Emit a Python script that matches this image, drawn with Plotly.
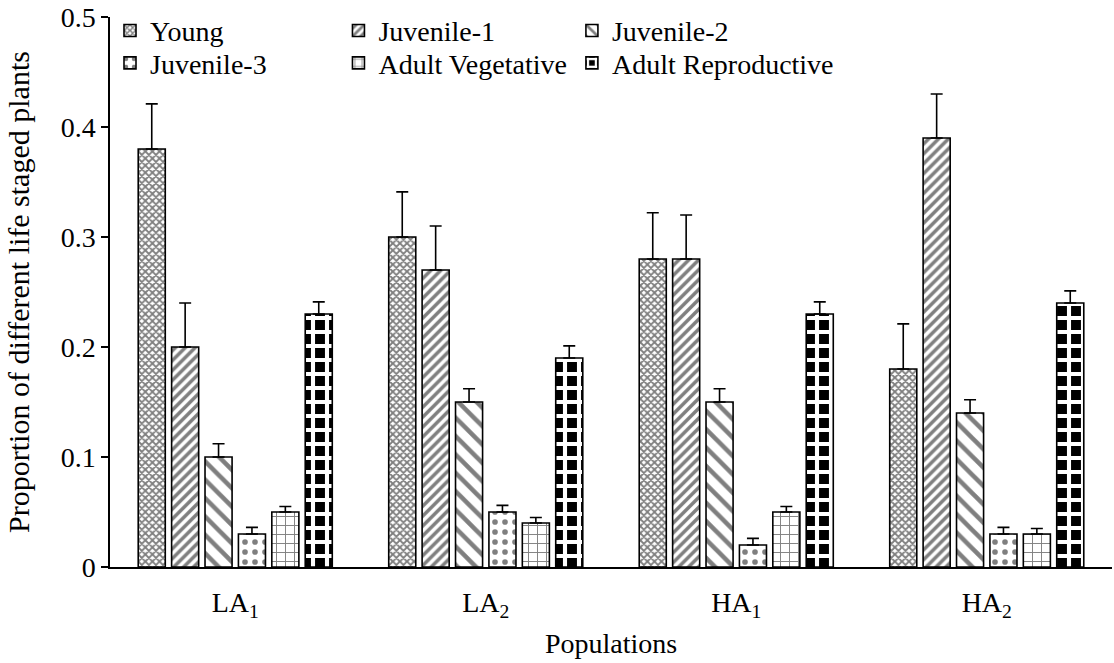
import plotly.graph_objects as go

# Populations (x categories) with subscripted tick text
populations = ["LA1", "LA2", "HA1", "HA2"]
population_labels = ["LA<sub>1</sub>", "LA<sub>2</sub>", "HA<sub>1</sub>", "HA<sub>2</sub>"]

# Proportion of plants in each life stage, per population
young = [0.38, 0.30, 0.28, 0.18]
juvenile_1 = [0.20, 0.27, 0.28, 0.39]
juvenile_2 = [0.10, 0.15, 0.15, 0.14]
juvenile_3 = [0.03, 0.05, 0.02, 0.03]
adult_vegetative = [0.05, 0.04, 0.05, 0.03]
adult_reproductive = [0.23, 0.19, 0.23, 0.24]

# Upper error bars (standard error)
young_err = [0.041, 0.041, 0.042, 0.041]
juvenile_1_err = [0.040, 0.040, 0.040, 0.040]
juvenile_2_err = [0.012, 0.012, 0.012, 0.012]
juvenile_3_err = [0.006, 0.006, 0.006, 0.006]
adult_vegetative_err = [0.005, 0.005, 0.005, 0.005]
adult_reproductive_err = [0.011, 0.011, 0.011, 0.011]

FONT = "Liberation Serif"
FS = 28

# one legend box per entry, laid out in a 3 x 2 grid above the bars
legend_cols = [0.0, 0.228, 0.461]
legend_rows = [0.975, 0.916]

series = [
    ("Young", young, young_err,
     dict(shape="x", size=5, solidity=0.6, fgcolor="black", bgcolor="white")),
    ("Juvenile-1", juvenile_1, juvenile_1_err,
     dict(shape="/", size=7, solidity=0.5, fgcolor="black", bgcolor="white")),
    ("Juvenile-2", juvenile_2, juvenile_2_err,
     dict(shape="\\", size=13, solidity=0.35, fgcolor="black", bgcolor="white")),
    ("Juvenile-3", juvenile_3, juvenile_3_err,
     dict(shape=".", size=10, solidity=0.25, fgcolor="black", bgcolor="white")),
    ("Adult Vegetative", adult_vegetative, adult_vegetative_err,
     dict(shape="+", size=9, solidity=0.2, fgcolor="black", bgcolor="white")),
    ("Adult Reproductive", adult_reproductive, adult_reproductive_err,
     dict(shape="+", size=14, solidity=0.5, fgcolor="white", bgcolor="black",
          fillmode="replace")),
]

fig = go.Figure()
legend_layout = {}
for i, (name, vals, errs, pattern) in enumerate(series):
    leg_id = "legend" if i == 0 else f"legend{i + 1}"
    fig.add_trace(go.Bar(
        name=name,
        x=populations,
        y=vals,
        marker=dict(color="white", pattern=pattern,
                    line=dict(color="black", width=1.6)),
        error_y=dict(type="data", symmetric=False, array=errs,
                     arrayminus=[0] * len(errs),
                     color="black", thickness=1.6, width=6),
        legend=leg_id,
        showlegend=True,
    ))
    legend_layout[leg_id] = dict(
        orientation="h",
        xanchor="left",
        yanchor="middle",
        x=legend_cols[i % 3],
        y=legend_rows[i // 3],
        font=dict(family=FONT, size=FS, color="black"),
        bgcolor="rgba(0,0,0,0)",
        itemwidth=30,
        visible=True,
    )

fig.update_layout(
    width=1114,
    height=663,
    showlegend=True,
    margin=dict(l=110, r=2, t=17, b=96),
    paper_bgcolor="white",
    plot_bgcolor="white",
    barmode="group",
    bargap=0.2,
    bargroupgap=0.19,
    font=dict(family=FONT, size=FS, color="black"),
    xaxis=dict(
        tickmode="array",
        tickvals=populations,
        ticktext=population_labels,
        showline=True,
        linecolor="black",
        linewidth=1.5,
        ticks="",
        showgrid=False,
        ticklabelstandoff=10,
        tickfont=dict(family=FONT, size=FS, color="black"),
        title=dict(text="Populations", font=dict(family=FONT, size=FS, color="black"),
                   standoff=12),
    ),
    yaxis=dict(
        range=[0, 0.5],
        dtick=0.1,
        showline=True,
        linecolor="black",
        linewidth=1.5,
        ticks="outside",
        ticklen=7,
        tickwidth=1.5,
        tickcolor="black",
        showgrid=False,
        zeroline=False,
        tickfont=dict(family=FONT, size=FS, color="black"),
        title=dict(text="Proportion of different life staged plants",
                   font=dict(family=FONT, size=30, color="black"), standoff=22),
    ),
    **legend_layout,
)

fig.write_html("out.html")
